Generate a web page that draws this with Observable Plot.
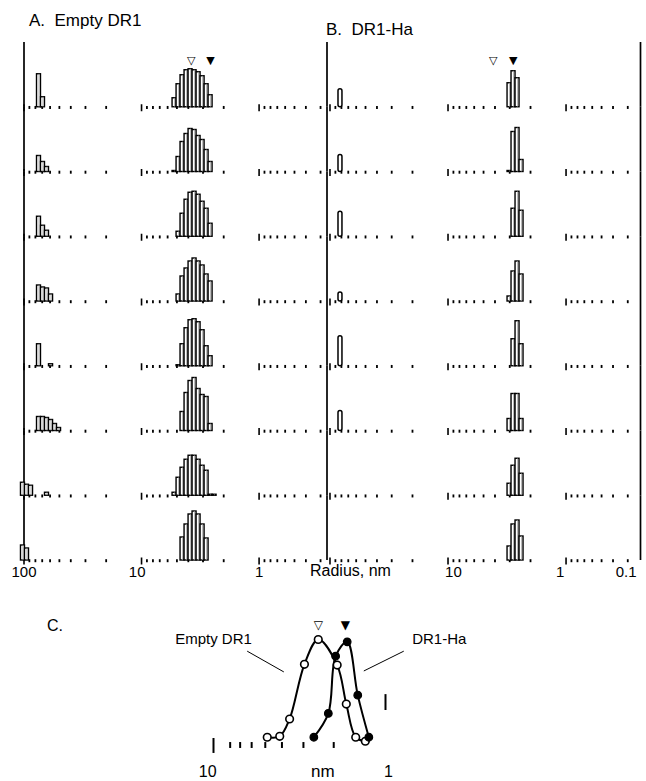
<!DOCTYPE html>
<html><head><meta charset="utf-8">
<script src="https://cdn.jsdelivr.net/npm/d3@7"></script>
<script src="https://cdn.jsdelivr.net/npm/@observablehq/plot@0.6"></script>
<style>
body{margin:0;background:#fff;}
#wrap{position:relative;width:646px;height:781px;overflow:hidden;background:#fff;font-family:"Liberation Sans",Arial,sans-serif;color:#000;}
.abs{position:absolute;}
.lbl{position:absolute;white-space:pre;line-height:1;}
</style></head><body>
<div id="wrap">
 <div id="pa" class="abs" style="left:0;top:0"></div>
 <div id="pb" class="abs" style="left:320px;top:0"></div>
 <div id="pc" class="abs" style="left:0;top:600px"></div>
 <div class="lbl" style="left:29px;top:12px;font-size:17px">A.  Empty DR1</div>
 <div class="lbl" style="left:326px;top:21px;font-size:17px">B.  DR1-Ha</div>
 <div class="lbl" style="left:310px;top:563px;font-size:16px">Radius, nm</div>
 <div class="lbl" style="left:47px;top:618px;font-size:16px">C.</div>
 <div class="lbl" style="left:311px;top:763px;font-size:17px">nm</div>
</div>
<script>
// ---------- data ----------
const rows = [1, 2, 3, 4, 5, 6, 7, 8];

// Panel A (Empty DR1): main peak, bin edges in nm and bar heights per row
const aMainEdges = [5.447, 5.036, 4.658, 4.306, 3.981, 3.681, 3.403, 3.147, 2.909, 2.690, 2.487, 2.300];
const aMainHeights = [
  [9, 23, 32, 37, 38, 37, 35, 31, 23, 12, 0],
  [1, 15, 30, 38, 43, 42, 36, 32, 22, 10, 0],
  [0, 5, 23, 37, 44, 45, 42, 35, 28, 13, 0],
  [0, 7, 25, 33, 40, 43, 40, 36, 27, 20, 0],
  [0, 1, 22, 38, 46, 47, 44, 36, 20, 10, 0],
  [0, 0, 19, 38, 50, 53, 42, 36, 34, 7, 0],
  [3, 18, 28, 36, 40, 40, 36, 30, 25, 1, 1],
  [0, 0, 23, 36, 46, 49, 46, 36, 22, 0, 0]
];
// Panel A: small aggregate peak near 100 nm
const aSmallEdges = [114.7, 106.1, 98.1, 90.7, 83.8, 77.5, 71.7, 66.3, 61.3, 56.6, 52.4, 48.4, 44.8];
const aSmallHeights = [
  [0, 0, 0, 0, 0, 33, 10, 0, 0, 0, 0, 0],
  [0, 0, 0, 0, 0, 16, 10, 5, 0, 0, 0, 0],
  [0, 0, 0, 0, 0, 20, 11, 6, 0, 0, 0, 0],
  [0, 0, 0, 0, 0, 16, 14, 13, 7, 0, 0, 0],
  [0, 0, 0, 0, 0, 22, 0, 0, 2, 0, 0, 0],
  [0, 0, 0, 0, 0, 14, 14, 13, 11, 7, 3, 0],
  [0, 13, 11, 10, 0, 0, 0, 3, 0, 0, 0, 0],
  [0, 15, 12, 0, 0, 0, 0, 0, 0, 0, 0, 0]
];
// Panel B (DR1-Ha): main peak
const bMainEdges = [3.386, 3.131, 2.897, 2.679, 2.478, 2.292, 2.120];
const bMainHeights = [
  [0, 24, 36, 29, 0, 0],
  [0, 1, 40, 44, 12, 0],
  [0, 0, 28, 45, 26, 0],
  [0, 5, 30, 40, 27, 0],
  [0, 0, 27, 45, 22, 0],
  [0, 12, 37, 37, 12, 0],
  [0, 12, 30, 37, 22, 0],
  [0, 14, 36, 40, 24, 0]
];
// Panel B: small peak
const bSmallEdges = [84.7, 78.4];
const bSmallHeights = [18, 17, 25, 9, 30, 20, 0, 0];

// peak markers (open = Empty DR1, filled = DR1-Ha)
const markerSymbols = ["▽", "▼"];
const markerRadiusA = [3.78, 2.59];
const markerRadiusB = [4.14, 2.80];

// Panel C: combined distributions
const cEmptyR = [4.87, 4.12, 3.61, 2.96, 2.46, 1.91, 1.69, 1.49, 1.31];
const cEmptyV = [7.8, 8.7, 25, 76.6, 100, 75.9, 39.1, 7.8, 4.0];
const cHaR = [2.61, 2.15, 1.95, 1.67, 1.45, 1.25];
const cHaV = [7.8, 30.3, 84.3, 97.8, 47.5, 7.8];
const cMarkerR = [2.46, 1.71];

// tick values and tick labels
const tickMajor = [100, 10, 1];
const tickMinor = [90, 80, 70, 60, 50, 40, 30, 20, 9, 8, 7, 6, 5, 4, 3, 2, 0.9, 0.8, 0.7, 0.6, 0.5, 0.4, 0.3];
const aTickLabels = ["100", "10", "1"];
const aTickLabelPos = [100, 10.9, 1];
const bTickLabels = ["10", "1", "0.1"];
const bTickLabelPos = [9, 1.12, 0.31];
const cTickMajorLow = [10];
const cTickMajorHigh = [1];
const cTickMinor = [8, 7, 6, 5, 4, 3, 2];
const cTickLabels = ["10", "1"];
const cTickLabelPos = [10.8, 0.96];
const cSeriesLabels = ["Empty DR1", "DR1-Ha"];

// ---------- helpers ----------
function toBars(edges, heights) {
  const out = [];
  heights.forEach((hs, ri) => {
    (Array.isArray(hs) ? hs : [hs]).forEach((h, i) => {
      if (h > 0) out.push({row: rows[ri], x1: edges[i], x2: edges[i + 1], h});
    });
  });
  return out;
}
const FONT = "Liberation Sans, Arial, sans-serif";
const SYM = "DejaVu Sans, sans-serif";

function panel({domain, width, marginLeft, marginRight, bars, roundBars, frame, markers, labels}) {
  return Plot.plot({
    width, height: 600, marginTop: 42, marginBottom: 40, marginLeft, marginRight,
    style: {background: "transparent", overflow: "visible"},
    x: {type: "log", domain, axis: null},
    y: {domain: [0, 64.75], axis: null},
    fy: {domain: rows, padding: 0, round: false, axis: null},
    marks: [
      Plot.ruleX(tickMinor, {x: d => d, y1: -2.2, y2: 0.8, strokeWidth: 1.8, stroke: "black"}),
      Plot.ruleX(tickMajor, {x: d => d, y1: -4.5, y2: 2.5, strokeWidth: 1.6, stroke: "black"}),
      Plot.ruleX(frame, {x: d => d, stroke: "black", strokeWidth: 1.7}),
      Plot.rect(bars, {x1: "x1", x2: "x2", y1: 0, y2: "h", fy: "row", fill: "white", stroke: "black", strokeWidth: 1.4}),
      Plot.ruleX(bars, {x: d => Math.sqrt(d.x1 * d.x2), y1: 0, y2: "h", fy: "row", stroke: "#999", strokeWidth: 0.7}),
      Plot.rect(roundBars, {x1: "x1", x2: "x2", y1: 0, y2: "h", fy: "row", fill: "white", stroke: "black", strokeWidth: 1.5, rx: 2}),
      Plot.text(markers, {x: "r", y: 46.5, fy: "row", text: "s", fontSize: 11, fontFamily: SYM, fill: "black"}),
      Plot.text(labels, {x: "r", y: 0, dy: 12, fy: "row", text: "t", fontSize: 15, fontFamily: FONT, fill: "black"})
    ]
  });
}

const aBars = toBars(aMainEdges, aMainHeights).concat(toBars(aSmallEdges, aSmallHeights));
const bBars = toBars(bMainEdges, bMainHeights);
const bRound = toBars(bSmallEdges, bSmallHeights);

document.getElementById("pa").append(panel({
  domain: [100, 0.267], width: 326, marginLeft: 23.5, marginRight: 0,
  bars: aBars, roundBars: [], frame: [100],
  markers: markerSymbols.map((s, i) => ({row: 1, r: markerRadiusA[i], s})),
  labels: aTickLabels.map((t, i) => ({row: 8, r: aTickLabelPos[i], t}))
}));
document.getElementById("pb").append(panel({
  domain: [106, 0.234], width: 326, marginLeft: 6.5, marginRight: 6,
  bars: bBars, roundBars: bRound, frame: [106, 0.234],
  markers: markerSymbols.map((s, i) => ({row: 1, r: markerRadiusB[i], s})),
  labels: bTickLabels.map((t, i) => ({row: 8, r: bTickLabelPos[i], t}))
}));

const cEmpty = cEmptyR.map((r, i) => ({r, v: cEmptyV[i]}));
const cHa = cHaR.map((r, i) => ({r, v: cHaV[i]}));
const cPanel = Plot.plot({
  width: 646, height: 181, marginLeft: 213, marginRight: 261, marginTop: 39, marginBottom: 36,
  style: {background: "transparent", overflow: "visible"},
  x: {type: "log", domain: [10, 1], axis: null},
  y: {domain: [0, 100], axis: null},
  marks: [
    Plot.ruleX(cTickMinor, {x: d => d, y1: -2.8, y2: 2.8, strokeWidth: 2, stroke: "black"}),
    Plot.ruleX(cTickMajorLow, {x: d => d, y1: -7.5, y2: 6.6, strokeWidth: 2, stroke: "black"}),
    Plot.ruleX(cTickMajorHigh, {x: d => d, y1: 33, y2: 48, strokeWidth: 2, stroke: "black"}),
    Plot.line(cEmpty, {x: "r", y: "v", curve: "catmull-rom", stroke: "black", strokeWidth: 2}),
    Plot.line(cHa, {x: "r", y: "v", curve: "catmull-rom", stroke: "black", strokeWidth: 2}),
    Plot.dot(cEmpty, {x: "r", y: "v", r: 3.8, fill: "white", stroke: "black", strokeWidth: 1.6}),
    Plot.dot(cHa, {x: "r", y: "v", r: 3.8, fill: "black", stroke: "black", strokeWidth: 1.2}),
    Plot.text(markerSymbols.map((s, i) => ({s, r: cMarkerR[i]})), {x: "r", y: 113.4, text: "s", fontSize: 12, fontFamily: SYM, fill: "black"}),
    Plot.text(cTickLabels.map((t, i) => ({t, r: cTickLabelPos[i]})), {x: "r", y: 0, dy: 26.5, text: "t", fontSize: 16, fontFamily: FONT, fill: "black"}),
    // series annotations with leader lines (anchored in data units)
    Plot.text([{t: cSeriesLabels[0], r: 10, v: 100}], {x: "r", y: "v", text: "t", fontSize: 15, fontFamily: FONT, fill: "black"}),
    Plot.text([{t: cSeriesLabels[1], r: 0.70, v: 100}], {x: "r", y: "v", text: "t", textAnchor: "start", fontSize: 15, fontFamily: FONT, fill: "black"}),
    Plot.link([{x1: 6.37, y1: 89, x2: 3.90, y2: 69.4}, {x1: 1.337, y1: 70.3, x2: 0.783, y2: 89}],
      {x1: "x1", y1: "y1", x2: "x2", y2: "y2", stroke: "black", strokeWidth: 1})
  ]
});
document.getElementById("pc").append(cPanel);
</script>
</body></html>
